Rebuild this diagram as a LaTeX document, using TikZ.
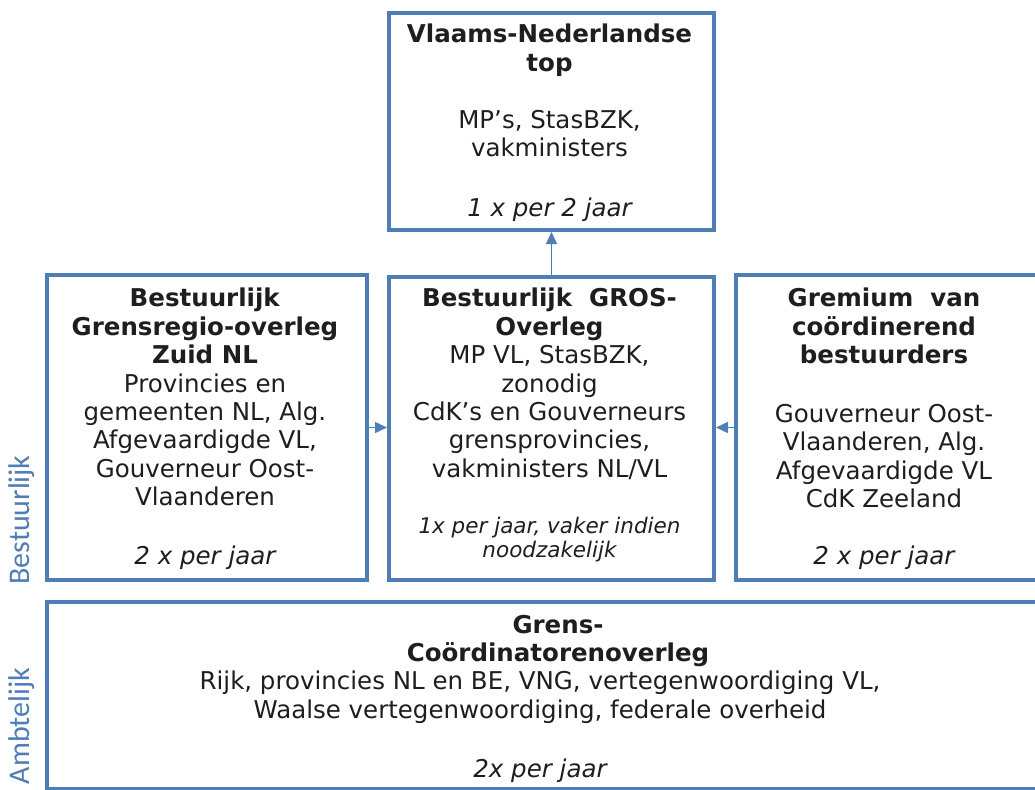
\documentclass[tikz,border=0pt]{standalone}
\usepackage{fontspec}
\setmainfont{DejaVu Sans}
\newfontfamily\labelfont{Carlito}
\usetikzlibrary{arrows.meta}
\definecolor{bord}{HTML}{4F7DB5}
\definecolor{txt}{HTML}{1E1E1E}
\begin{document}
\begin{tikzpicture}[x=1pt,y=-1pt,
  box/.style={draw=bord, line width=4pt, anchor=north west, inner sep=0pt},
  body/.style={anchor=north, align=center, inner sep=0pt, text=txt,
    font=\fontsize{24.5}{28.4}\selectfont},
  freq/.style={anchor=north, align=center, inner sep=0pt, text=txt,
    font=\fontsize{24.5}{28.4}\selectfont\itshape},
  note/.style={anchor=north, align=center, inner sep=0pt, text=txt,
    font=\fontsize{21.5}{24}\selectfont\itshape},
  con/.style={draw=bord, line width=1.5pt, -{Triangle[length=12pt,width=11pt]}},
  side/.style={rotate=90, text=bord, inner sep=0pt,
    font=\labelfont\fontsize{30}{34}\selectfont}]
\clip (0,0) rectangle (1035,789);
\fill[white] (0,0) rectangle (1035,789);

% boxes
\node[box, minimum width=325pt, minimum height=217pt] (top) at (387,11) {};
\node[box, minimum width=320pt, minimum height=305pt] (left) at (45,273) {};
\node[box, minimum width=325pt, minimum height=303pt] (mid) at (387,275) {};
\node[box, minimum width=320pt, minimum height=305pt] (right) at (734,273) {};
\node[box, minimum width=1010pt, minimum height=187pt] (bot) at (45,600) {};

% top box text
\node[body] (toptxt) at (549.5,24) {\textbf{Vlaams-Nederlandse}\\\textbf{top}\\ ~\\MP’s, StasBZK,\\vakministers};
\node[freq] (topfreq) at (549.5,198) {1 x per 2 jaar};

% left box text
\node[body] (lefttxt) at (205,288) {\textbf{Bestuurlijk}\\\textbf{Grensregio-overleg}\\\textbf{Zuid NL}\\Provincies en\\gemeenten NL, Alg.\\Afgevaardigde VL,\\Gouverneur Oost-\\Vlaanderen};
\node[freq] (leftfreq) at (205,546) {2 x per jaar};

% middle box text
\node[body] (midtxt) at (549.5,288) {\textbf{Bestuurlijk\ \ GROS-}\\\textbf{Overleg}\\MP VL, StasBZK,\\zonodig\\CdK’s en Gouverneurs\\grensprovincies,\\vakministers NL/VL};
\node[note] (midnote) at (549.5,517) {1x per jaar, vaker indien\\noodzakelijk};

% right box text
\node[body] (righttitle) at (884,288) {\textbf{Gremium\ \ van}\\\textbf{coördinerend}\\\textbf{bestuurders}};
\node[body] (righttxt) at (884,404) {Gouverneur Oost-\\Vlaanderen, Alg.\\Afgevaardigde VL\\CdK Zeeland};
\node[freq] (rightfreq) at (884,546) {2 x per jaar};

% bottom box text
\node[body] (bottitle) at (558,615) {\textbf{Grens-}\\\textbf{Coördinatorenoverleg}};
\node[body] (bottxt) at (540,671) {Rijk, provincies NL en BE, VNG, vertegenwoordiging VL,\\Waalse vertegenwoordiging, federale overheid};
\node[freq] (botfreq) at (540,759) {2x per jaar};

% side labels
\node[side] (lblb) at (22,520) {Bestuurlijk};
\node[side] (lbla) at (22,726) {Ambtelijk};

% connectors
\draw[con] (mid.north) -- (top.south);
\draw[con] (left.east) -- (left.east -| mid.west);
\draw[con] (right.west) -- (right.west -| mid.east);
\end{tikzpicture}
\end{document}
